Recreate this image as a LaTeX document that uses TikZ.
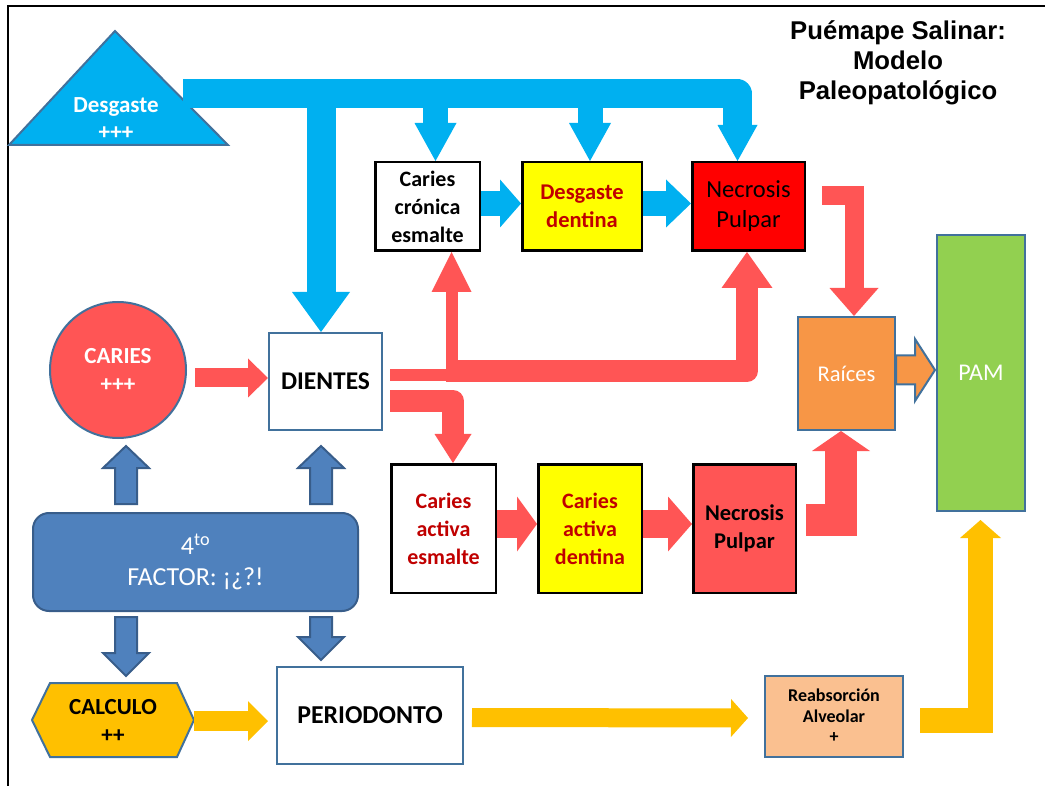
\documentclass[tikz,border=0pt]{standalone}
\usepackage{fontspec}
\setmainfont{Carlito}
\newfontfamily\titlefont{Liberation Sans}
\usetikzlibrary{arrows.meta,calc}
\definecolor{cyanA}{HTML}{00B0F0}
\definecolor{redA}{HTML}{FF5555}
\definecolor{steelA}{HTML}{4F81BD}
\definecolor{steelB}{HTML}{385D8A}
\definecolor{borderB}{HTML}{41719C}
\definecolor{yellowA}{HTML}{FFC000}
\definecolor{darkredA}{HTML}{C00000}
\definecolor{orangeA}{HTML}{F79646}
\definecolor{peachA}{HTML}{FAC090}
\definecolor{greenA}{HTML}{92D050}
\definecolor{yellowB}{HTML}{FFFF00}
\definecolor{redB}{HTML}{FF0000}
\newcommand{\vblockarrow}[7]{%
  \filldraw[#1] (#2-#6,#3) -- (#2-#6,#4) -- (#2-#7,#4) -- (#2,#5) -- (#2+#7,#4) -- (#2+#6,#4) -- (#2+#6,#3) -- cycle;}
\tikzset{
  blkbox/.style={draw=black, line width=2.5pt, inner sep=0pt, align=center},
  bluebox/.style={draw=borderB, line width=2pt, inner sep=0pt, align=center},
  fb/.style={font=\bfseries\fontsize{#1}{28}\selectfont},
  fr/.style={font=\fontsize{#1}{30}\selectfont},
  tipT/.style n args={2}{-{Triangle[width=#1pt,length=#2pt,line width=0pt]}},
  factorarrow/.style={fill=steelA, draw=steelB, line width=2pt, line join=miter},
}
\begin{document}
\begin{tikzpicture}[x=1pt,y=-1pt]
\useasboundingbox (0,0) rectangle (1045,786);
% frame
\draw[line width=2pt] (8,786) -- (8,6) -- (1045,6);
% title
\node[font=\titlefont\bfseries\fontsize{25.7}{30}\selectfont, align=center] (title) at (898,63) {Puémape Salinar:\\Modelo\\Paleopatológico};
% Desgaste triangle
\filldraw[fill=cyanA, draw=borderB, line width=2pt, line join=miter] (9,145) -- (115,31) -- (228,145) -- cycle;
\node[white, font=\bfseries\fontsize{23}{27}\selectfont, align=center] (desg) at (116,119) {Desgaste\\+++};
% top row
\node[blkbox, fb=22, minimum width=104.5pt, minimum height=88.5pt] (cronica) at (427.5,206.5) {Caries\\crónica\\esmalte};
\node[blkbox, fill=yellowB, text=darkredA, fb=22.5, minimum width=119.5pt, minimum height=88.5pt] (desgd) at (582,206.5) {Desgaste\\dentina};
\node[blkbox, fill=redB, fr=24.5, minimum width=112.5pt, minimum height=88.5pt] (necro1) at (748.5,206.5) {Necrosis\\Pulpar};
% caries & dientes
\node[circle, draw=borderB, line width=2pt, fill=redA, text=white, fb=23, align=center, minimum size=136pt, inner sep=0pt] (caries) at (118,370) {CARIES\\+++};
\node[bluebox, fill=white, font=\bfseries\fontsize{25.5}{28}\selectfont, minimum width=113pt, minimum height=97pt] (dientes) at (325.5,381.5) {DIENTES};
% factor
\node[draw=steelB, line width=2pt, fill=steelA, rounded corners=16pt, text=white, font=\fontsize{26}{31}\selectfont, align=center, minimum width=325pt, minimum height=98pt, inner sep=0pt] (factor) at (195.5,562) {4\textsuperscript{to}\\FACTOR: ¡¿?!};
% bottom row
\node[blkbox, text=darkredA, fb=22, minimum width=104.5pt, minimum height=128.5pt] (esm2) at (443.5,528.5) {Caries\\activa\\esmalte};
\node[blkbox, fill=yellowB, text=darkredA, fb=22, minimum width=103.5pt, minimum height=128.5pt] (dent2) at (590,528.5) {Caries\\activa\\dentina};
\node[blkbox, fill=redA, fb=22.5, minimum width=102.5pt, minimum height=128.5pt] (necro2) at (744.5,528.5) {Necrosis\\Pulpar};
% right side
\node[bluebox, fill=orangeA, text=white, fr=22.5, minimum width=97pt, minimum height=113pt] (raices) at (846.5,373.5) {Raíces};
\node[bluebox, fill=greenA, text=white, fr=24, minimum width=88pt, minimum height=276pt] (pam) at (981,373) {PAM};
% calculo
\filldraw[fill=yellowA, draw=borderB, line width=2pt] (32,720) -- (50,683) -- (177,683) -- (194,720) -- (177,757) -- (50,757) -- cycle;
\node[fb=23, align=center, minimum width=162pt, minimum height=74pt, inner sep=0pt, outer sep=0pt] (calculo) at (113,721) {CALCULO\\++};
\node[bluebox, fill=white, font=\bfseries\fontsize{25.8}{28}\selectfont, minimum width=186pt, minimum height=97pt] (perio) at (370,715.5) {PERIODONTO};
\node[bluebox, fill=peachA, font=\bfseries\fontsize{18}{20.5}\selectfont, minimum width=138pt, minimum height=81pt] (reab) at (834,716) {Reabsorción\\Alveolar\\+};

% ---- blue (desgaste) arrows
\coordinate (bs) at (183,94);
\draw[cyanA, line width=29pt, line join=round, tipT={40}{36}] (bs) -| ($(necro1.north)+(-11,0)$);
\coordinate (t1) at ($(cronica.north)+(8,0)$);
\coordinate (t2) at ($(desgd.north)+(8,0)$);
\coordinate (t3) at ($(dientes.north)+(-4.5,0)$);
\draw[cyanA, line width=25pt, tipT={42}{38}] (t1 |- bs) -- (t1);
\draw[cyanA, line width=25pt, tipT={42}{38}] (t2 |- bs) -- (t2);
\draw[cyanA, line width=29pt, tipT={58}{40}] (t3 |- bs) -- (t3);
\draw[cyanA, line width=25pt, tipT={48}{21}] ($(cronica.east)+(0,-3)$) -- ($(desgd.west)+(0,-3)$);
\draw[cyanA, line width=25pt, tipT={48}{25}] ($(desgd.east)+(0,-3)$) -- ($(necro1.west)+(0,-3)$);

% ---- red (caries) arrows
\draw[redA, line width=19pt, tipT={39}{20}] ($(caries.east)+(8,8)$) -- ($(dientes.west)+(0,-3.5)$);
\draw[redA, line width=12pt, tipT={40}{40}] ($(dientes.east)+(7,-6)$) -| ($(cronica.south)+(24,0)$);
\draw[redA, line width=22pt, line join=round, tipT={51}{36}] ($(dientes.east)+(63,-10.5)$) -| ($(necro1.south)+(-1.5,0)$);
\draw[redA, line width=22pt, line join=round, tipT={37}{29}] ($(dientes.east)+(7,19.5)$) -| ($(esm2.north)+(9.5,0)$);
\draw[redA, line width=28pt, tipT={55}{20}] ($(esm2.east)+(0,-4.5)$) -- ($(dent2.west)+(0,-4.5)$);
\draw[redA, line width=28pt, tipT={55}{24}] ($(dent2.east)+(0,-4.5)$) -- ($(necro2.west)+(0,-4.5)$);
\draw[redA, line width=19pt, line join=miter, tipT={49}{28}] ($(necro1.east)+(16,-11)$) -| ($(raices.north)+(7.5,0)$);
\draw[redA, line width=32pt, line join=miter, tipT={58}{20}] ($(necro2.east)+(9,-8.5)$) -| ($(raices.south)+(-5.5,0)$);

% ---- raices -> PAM
\filldraw[fill=orangeA, draw=borderB, line width=2pt, line join=miter] (raices.east) ++(0,-18) -- ++(19,0) -- ++(0,-16.5) -- ++(20,31) -- ++(-20,31) -- ++(0,-16.5) -- ++(-19,0) -- cycle;

% ---- factor arrows
\vblockarrow{factorarrow}{126}{504}{468}{446}{11}{23}
\vblockarrow{factorarrow}{321}{504}{468}{446}{11}{23}
\vblockarrow{factorarrow}{126}{617}{653}{676}{11}{23}
\vblockarrow{factorarrow}{321}{617}{637}{660}{11}{23}

% ---- yellow arrows
\draw[yellowA, line width=20pt, tipT={40}{20}] (calculo.east) -- ($(perio.west |- calculo.east)+(-8,0)$);
\draw[yellowA, line width=19pt, tipT={38}{17}] ($(perio.east)+(8,2)$) -- ($(reab.west)+(-16,2)$);
\draw[yellowA, line width=24.5pt, line join=miter, tipT={41}{18}] ($(reab.east)+(16,4.5)$) -| ($(pam.south)+(-0.5,8)$);
\end{tikzpicture}
\end{document}
